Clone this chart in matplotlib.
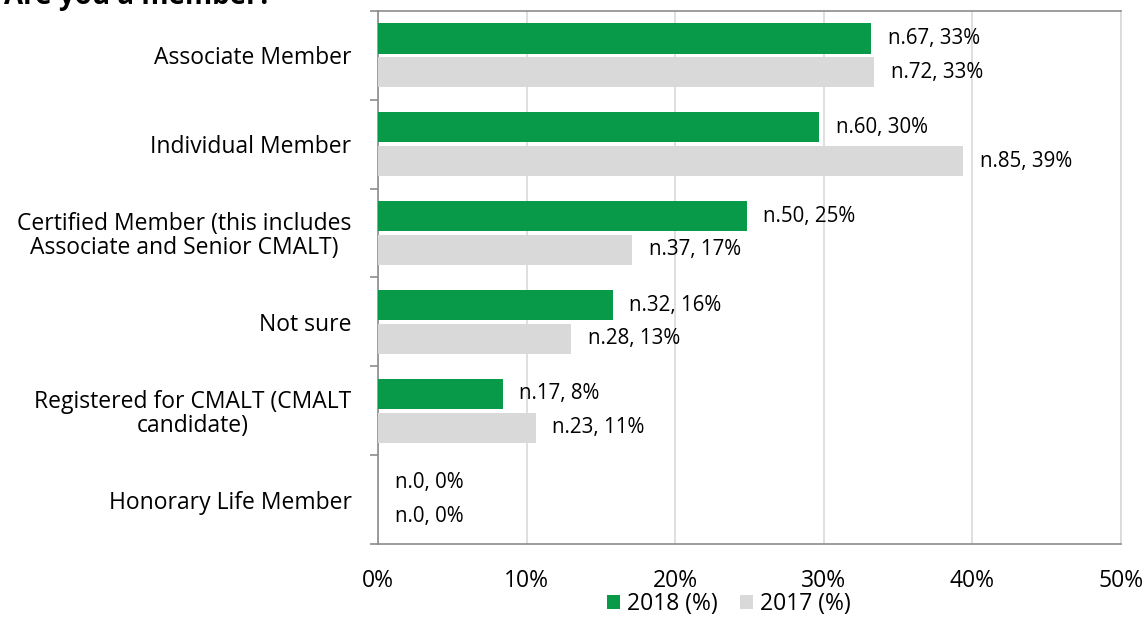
import matplotlib
matplotlib.use("Agg")
import matplotlib.pyplot as plt
import numpy as np
from matplotlib.ticker import FixedLocator, PercentFormatter

# Survey answers: "Are you a member?"
categories = ["Associate Member", "Individual Member",
              "Certified Member (this includes\nAssociate and Senior CMALT)",
              "Not sure", "Registered for CMALT (CMALT\ncandidate)",
              "Honorary Life Member"]
pct_2018 = [33.2, 29.7, 24.8, 15.8, 8.4, 0.0]
pct_2017 = [33.4, 39.4, 17.1, 13.0, 10.6, 0.0]
n_2018 = [67, 60, 50, 32, 17, 0]
n_2017 = [72, 85, 37, 28, 23, 0]
lbl_2018 = ["33%", "30%", "25%", "16%", "8%", "0%"]
lbl_2017 = ["33%", "39%", "17%", "13%", "11%", "0%"]

green = "#089A48"
grey = "#D9D9D9"
axis_col = "#8C8C8C"

plt.rcParams["font.family"] = ["Open Sans", "DejaVu Sans"]

fig = plt.figure(figsize=(11.47, 6.26), dpi=100)
ax = fig.add_axes([378/1147, 1-544/626, (1121-378)/1147, (544-11)/626])

y = np.arange(len(categories))
h = 0.34
off = 0.19
ax.barh(y - off, pct_2018, height=h, color=green, label="2018 (%)", zorder=3)
ax.barh(y + off, pct_2017, height=h, color=grey, label="2017 (%)", zorder=3)

# data labels "n.X, Y%" right of each bar
for i in range(len(categories)):
    ax.annotate(f"n.{n_2018[i]}, {lbl_2018[i]}", (pct_2018[i], y[i] - off),
                xytext=(12, 0), textcoords="offset points", va="center",
                fontsize=14.8)
    ax.annotate(f"n.{n_2017[i]}, {lbl_2017[i]}", (pct_2017[i], y[i] + off),
                xytext=(12, 0), textcoords="offset points", va="center",
                fontsize=14.8)

ax.set_xlim(0, 50)
ax.set_ylim(len(categories) - 0.5, -0.5)
ax.set_xticks(np.arange(0, 51, 10))
ax.xaxis.set_major_formatter(PercentFormatter(decimals=0))
ax.set_yticks(y)
ax.set_yticklabels(categories, linespacing=1.0)
ax.yaxis.set_minor_locator(FixedLocator(np.arange(-0.5, len(categories), 1)))
ax.tick_params(axis="y", which="major", length=0, pad=19, labelsize=16.5)
ax.tick_params(axis="y", which="minor", length=6, color=axis_col, width=1.2)
ax.tick_params(axis="x", length=0, pad=18, labelsize=16.5)
for lab in ax.get_yticklabels():
    lab.set_multialignment("center")

ax.grid(axis="x", color=grey, lw=1.2, zorder=0)
for s in ["left", "bottom", "top"]:
    ax.spines[s].set_color(axis_col)
    ax.spines[s].set_linewidth(1.2)
ax.spines["right"].set_color(grey)
ax.spines["right"].set_linewidth(1.2)

fig.text(272/1147, 1 - 4/626, "Are you a member?", fontsize=20, fontweight="bold",
         va="baseline", ha="right")

fig.legend(loc="center", bbox_to_anchor=(729/1147, 1 - 604/626), ncol=2,
           frameon=False, fontsize=16.5, handlelength=0.55, handleheight=0.55,
           handletextpad=0.3, columnspacing=1.0)

fig.savefig("out.png", dpi=100)
